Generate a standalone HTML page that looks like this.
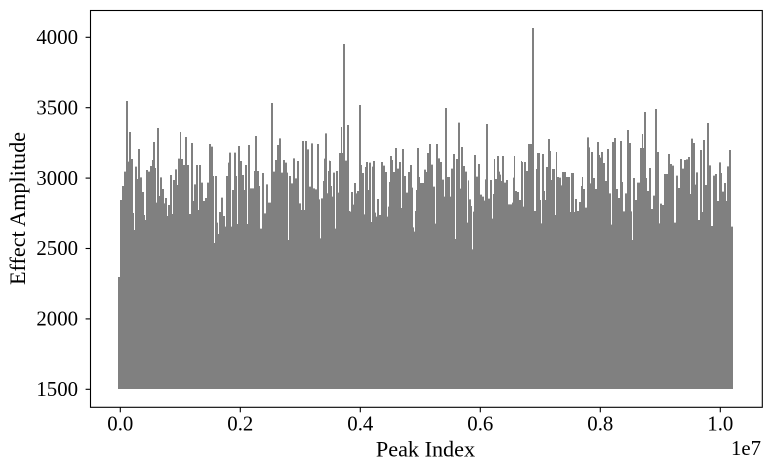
<!DOCTYPE html>
<html>
<head>
<meta charset="utf-8">
<style>
  html,body{margin:0;padding:0;background:#fff;}
  svg{display:block;}
  text{font-family:"Liberation Serif","Times New Roman",serif;fill:#000;}
</style>
</head>
<body>
<svg width="772" height="472" viewBox="0 0 772 472" xmlns="http://www.w3.org/2000/svg">
  <rect x="0" y="0" width="772" height="472" fill="#fff"/>

  <!-- data area -->
  <g fill="#808080" stroke="none">
    <rect x="118" y="277" width="3" height="112"/>
    <g transform="translate(110,90) scale(0.333333)">
      <path d="M30,897 V330 H36 V288 H42 V245 H48 V33 H54 V215 H57 V126 H63 V207 H69 V369 H72 V420 H75 V230 H81 V267 H84 V177 H90 V262 H96 V306 H102 V375 H105 V390 H108 V240 H114 V245 H120 V228 H126 V210 H129 V156 H135 V234 H138 V338 H141 V114 H147 V318 H150 V262 H156 V297 H162 V340 H165 V324 H171 V378 H174 V345 H180 V255 H186 V372 H189 V270 H195 V238 H201 V285 H204 V206 H210 V126 H213 V207 H219 V225 H225 V141 H231 V225 H237 V372 H243 V159 H249 V333 H252 V283 H258 V225 H264 V360 H267 V225 H273 V278 H279 V333 H285 V324 H291 V278 H297 V162 H303 V170 H309 V258 H312 V459 H315 V258 H321 V398 H324 V432 H327 V366 H333 V323 H339 V378 H345 V410 H348 V258 H354 V218 H357 V188 H363 V410 H366 V300 H372 V188 H378 V258 H381 V402 H384 V168 H390 V213 H396 V255 H402 V300 H405 V225 H411 V402 H414 V165 H420 V295 H432 V243 H435 V138 H441 V243 H447 V288 H450 V416 H456 V249 H462 V370 H468 V283 H474 V338 H483 V39 H489 V245 H495 V210 H501 V165 H507 V145 H513 V248 H519 V210 H525 V218 H531 V248 H534 V450 H537 V258 H543 V280 H549 V205 H555 V265 H561 V213 H567 V340 H573 V360 H576 V153 H582 V360 H585 V153 H591 V178 H597 V290 H603 V160 H609 V295 H615 V298 H621 V162 H627 V328 H630 V446 H633 V325 H639 V273 H645 V205 H651 V310 H657 V212 H660 V897 Z"/>
    </g>
    <g transform="translate(320,30) scale(0.333333)">
      <path d="M0,1077 V625 H3 V507 H9 V453 H12 V386 H15 V310 H21 V490 H24 V423 H27 V393 H33 V468 H36 V500 H39 V428 H45 V596 H48 V423 H54 V488 H57 V369 H63 V291 H66 V369 H69 V42 H75 V392 H81 V285 H87 V543 H90 V545 H93 V486 H99 V524 H102 V459 H108 V490 H111 V483 H117 V225 H123 V405 H126 V429 H132 V553 H135 V411 H138 V396 H144 V480 H147 V398 H153 V576 H156 V410 H159 V393 H165 V548 H168 V560 H171 V507 H177 V555 H183 V396 H189 V407 H195 V426 H201 V560 H204 V530 H207 V456 H210 V378 H216 V390 H219 V426 H225 V354 H231 V416 H237 V396 H243 V534 H246 V357 H252 V438 H258 V488 H264 V426 H270 V405 H276 V473 H279 V592 H282 V605 H285 V543 H288 V480 H291 V354 H297 V441 H300 V459 H312 V419 H318 V426 H321 V369 H327 V342 H333 V404 H339 V470 H345 V581 H348 V342 H354 V385 H360 V396 H366 V449 H372 V500 H375 V234 H381 V441 H390 V500 H393 V416 H399 V372 H405 V627 H408 V387 H414 V278 H420 V476 H423 V351 H429 V408 H435 V425 H441 V578 H444 V451 H447 V508 H453 V528 H456 V658 H459 V545 H462 V375 H468 V440 H474 V402 H480 V494 H486 V500 H492 V512 H495 V448 H498 V282 H504 V506 H510 V450 H516 V566 H519 V492 H522 V387 H525 V447 H531 V378 H537 V425 H540 V434 H543 V453 H546 V378 H552 V458 H558 V450 H564 V523 H576 V518 H579 V443 H582 V378 H585 V483 H591 V486 H597 V510 H603 V393 H606 V396 H609 V530 H612 V396 H618 V423 H624 V342 H636 V1077 Z"/>
    </g>
    <g transform="translate(530,20) scale(0.333333)">
      <path d="M0,1107 V372 H6 V24 H12 V573 H18 V447 H21 V399 H30 V540 H33 V610 H36 V402 H42 V513 H45 V540 H48 V441 H54 V357 H60 V393 H63 V480 H66 V447 H75 V585 H78 V396 H81 V471 H87 V473 H93 V496 H96 V456 H108 V471 H120 V576 H123 V459 H132 V576 H135 V537 H141 V573 H147 V546 H153 V498 H156 V471 H159 V507 H165 V563 H171 V352 H177 V382 H180 V490 H183 V396 H189 V474 H195 V507 H201 V366 H207 V405 H210 V413 H213 V396 H219 V429 H225 V483 H231 V387 H237 V520 H243 V614 H246 V366 H252 V354 H258 V507 H264 V534 H270 V363 H276 V486 H279 V574 H285 V520 H291 V330 H297 V369 H303 V574 H306 V660 H309 V474 H315 V540 H321 V488 H330 V384 H336 V342 H339 V384 H342 V276 H348 V474 H351 V513 H357 V444 H363 V567 H369 V527 H375 V267 H381 V396 H387 V610 H390 V551 H396 V555 H402 V462 H414 V402 H420 V432 H426 V437 H432 V608 H438 V467 H444 V504 H450 V417 H456 V446 H462 V420 H468 V418 H474 V411 H480 V522 H483 V356 H489 V369 H495 V494 H498 V457 H504 V600 H510 V390 H516 V576 H519 V360 H525 V495 H531 V309 H537 V436 H543 V618 H549 V467 H555 V462 H561 V543 H567 V427 H573 V459 H576 V515 H582 V489 H588 V543 H591 V439 H597 V390 H603 V620 H609 V1107 Z"/>
    </g>
  </g>

  <!-- spines -->
  <rect x="90.5" y="10.5" width="671.8" height="396.8" fill="none" stroke="#000" stroke-width="1.1"/>

  <!-- y ticks -->
  <g stroke="#000" stroke-width="1.1">
    <line x1="85.6" y1="389.3" x2="90.5" y2="389.3"/>
    <line x1="85.6" y1="318.9" x2="90.5" y2="318.9"/>
    <line x1="85.6" y1="248.5" x2="90.5" y2="248.5"/>
    <line x1="85.6" y1="178.1" x2="90.5" y2="178.1"/>
    <line x1="85.6" y1="107.7" x2="90.5" y2="107.7"/>
    <line x1="85.6" y1="37.3" x2="90.5" y2="37.3"/>
  </g>
  <g font-size="20.8" text-anchor="end">
    <text x="78" y="396">1500</text>
    <text x="78" y="325.6">2000</text>
    <text x="78" y="255.2">2500</text>
    <text x="78" y="184.8">3000</text>
    <text x="78" y="114.4">3500</text>
    <text x="78" y="44">4000</text>
  </g>

  <!-- x ticks -->
  <g stroke="#000" stroke-width="1.1">
    <line x1="120.3" y1="407.3" x2="120.3" y2="412.3"/>
    <line x1="240.3" y1="407.3" x2="240.3" y2="412.3"/>
    <line x1="360.3" y1="407.3" x2="360.3" y2="412.3"/>
    <line x1="480.3" y1="407.3" x2="480.3" y2="412.3"/>
    <line x1="600.3" y1="407.3" x2="600.3" y2="412.3"/>
    <line x1="720.3" y1="407.3" x2="720.3" y2="412.3"/>
  </g>
  <g font-size="20.8" text-anchor="middle">
    <text x="120.3" y="430.7">0.0</text>
    <text x="240.3" y="430.7">0.2</text>
    <text x="360.3" y="430.7">0.4</text>
    <text x="480.3" y="430.7">0.6</text>
    <text x="600.3" y="430.7">0.8</text>
    <text x="720.3" y="430.7">1.0</text>
  </g>
  <text x="761" y="455" font-size="20.8" text-anchor="end">1e7</text>

  <!-- axis labels -->
  <text x="425.5" y="456.7" font-size="22.2" text-anchor="middle">Peak Index</text>
  <text transform="translate(25,208.5) rotate(-90)" font-size="22.2" text-anchor="middle">Effect Amplitude</text>
</svg>
</body>
</html>
